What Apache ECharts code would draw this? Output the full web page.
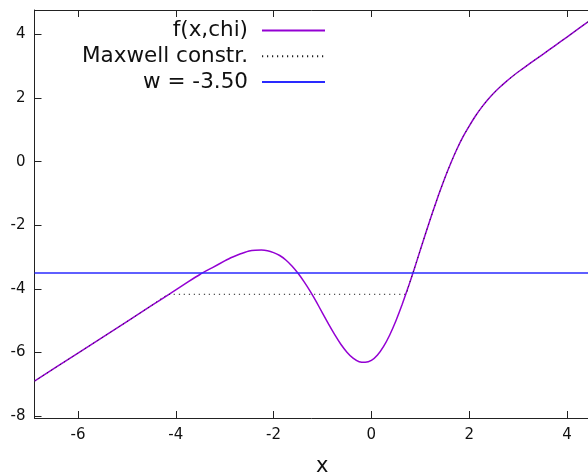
<!DOCTYPE html>
<html>
<head>
<meta charset="utf-8">
<script src="https://cdn.jsdelivr.net/npm/echarts@6/dist/echarts.min.js"></script>
<style>
  html, body { margin: 0; padding: 0; background: #fff; }
  #chart { width: 588px; height: 474px; }
</style>
</head>
<body>
<div id="chart"></div>
<script>
// f(x,chi) sampled from the plot
const fx = [-6.89, -6.0, -5.0, -4.5, -4.0, -3.75, -3.5, -3.25, -3.0, -2.875, -2.75, -2.625, -2.5, -2.375, -2.25, -2.125, -2.0, -1.875, -1.75, -1.625, -1.5, -1.375, -1.25, -1.125, -1.0, -0.875, -0.75, -0.625, -0.5, -0.375, -0.25, -0.125, 0, 0.125, 0.25, 0.375, 0.5, 0.625, 0.75, 0.875, 1.0, 1.125, 1.25, 1.375, 1.5, 1.625, 1.75, 1.875, 2.0, 2.125, 2.25, 2.375, 2.5, 2.625, 2.75, 2.875, 3.0, 3.25, 3.5, 3.75, 4.0, 4.25, 4.43];
const fy = [-6.9, -6.02, -5.03, -4.53, -4.03, -3.78, -3.54, -3.33, -3.12, -3.02, -2.94, -2.87, -2.81, -2.785, -2.78, -2.8, -2.86, -2.95, -3.09, -3.28, -3.51, -3.78, -4.08, -4.41, -4.76, -5.11, -5.44, -5.74, -5.99, -6.18, -6.29, -6.31, -6.25, -6.08, -5.81, -5.45, -5.01, -4.51, -3.96, -3.38, -2.78, -2.18, -1.6, -1.04, -0.52, -0.04, 0.4, 0.79, 1.12, 1.43, 1.7, 1.94, 2.15, 2.34, 2.51, 2.67, 2.82, 3.1, 3.37, 3.645, 3.92, 4.2, 4.4];

// Maxwell construction: flat segment between these x values
const maxwellLevel = -4.17;
const maxwellLeft = -4.12;
const maxwellRight = 0.70;

const wLevel = -3.5;

const xTicks = [-6, -4, -2, 0, 2, 4];
const yTicks = [-8, -6, -4, -2, 0, 2, 4];
const xRange = [-6.89, 4.43];
const yRange = [-8.06, 4.77];

const font = 'DejaVu Sans';

const fData = fx.map((x, i) => [x, fy[i]]);
const maxwellData = fData.filter(p => p[0] < maxwellLeft)
  .concat([[maxwellLeft, maxwellLevel], [maxwellRight, maxwellLevel]])
  .concat(fData.filter(p => p[0] > maxwellRight));
const wData = [[xRange[0], wLevel], [xRange[1], wLevel]];

const chart = echarts.init(document.getElementById('chart'), null, { renderer: 'canvas' });

const axisLine = { show: true, onZero: false, lineStyle: { color: '#222', width: 1 } };
const tick = { show: true, inside: true, length: 7, lineStyle: { color: '#222', width: 1 } };

chart.setOption({
  animation: false,
  backgroundColor: '#fff',
  grid: { left: 34.5, top: 10, right: 0, bottom: 56 },
  legend: {
    orient: 'vertical',
    align: 'right',
    right: 262,
    top: 19.5,
    padding: 0,
    itemWidth: 63,
    itemHeight: 14,
    itemGap: 3.8,
    selectedMode: false,
    itemStyle: { opacity: 0 },
    textStyle: { fontFamily: font, fontSize: 21.5, lineHeight: 22, color: '#111', padding: [0, 9, 0, 0] },
    data: ['f(x,chi)', 'Maxwell constr.', 'w = -3.50']
  },
  xAxis: [
    {
      type: 'value',
      min: xRange[0],
      max: xRange[1],
      axisLine: axisLine,
      axisTick: Object.assign({ customValues: xTicks }, tick),
      axisLabel: { customValues: xTicks, margin: 10, fontFamily: font, fontSize: 15, color: '#111' },
      splitLine: { show: false }
    },
    {
      type: 'value',
      position: 'top',
      min: xRange[0],
      max: xRange[1],
      axisLine: axisLine,
      axisTick: Object.assign({ customValues: xTicks }, tick),
      axisLabel: { show: false },
      splitLine: { show: false }
    }
  ],
  yAxis: {
    type: 'value',
    min: yRange[0],
    max: yRange[1],
    axisLine: axisLine,
    axisTick: Object.assign({ customValues: yTicks }, tick),
    axisLabel: { customValues: yTicks, margin: 9, fontFamily: font, fontSize: 15, color: '#111' },
    splitLine: { show: false }
  },
  graphic: [{
    type: 'text',
    left: 316,
    top: 456,
    style: { text: 'x', font: '21px "DejaVu Sans"', fill: '#111', textAlign: 'center' }
  }],
  series: [
    {
      name: 'f(x,chi)',
      type: 'line',
      data: fData,
      symbol: 'none',
      smooth: 0.2,
      lineStyle: { color: '#9400d3', width: 1.5 },
      itemStyle: { color: '#9400d3' }
    },
    {
      name: 'Maxwell constr.',
      type: 'line',
      data: maxwellData,
      symbol: 'none',
      smooth: 0.2,
      lineStyle: { color: '#222', width: 1, type: [1.2, 3.8] },
      itemStyle: { color: '#222' }
    },
    {
      name: 'w = -3.50',
      type: 'line',
      data: wData,
      symbol: 'none',
      lineStyle: { color: '#2a2aff', width: 1.3 },
      itemStyle: { color: '#2a2aff' }
    }
  ]
});
</script>
</body>
</html>
